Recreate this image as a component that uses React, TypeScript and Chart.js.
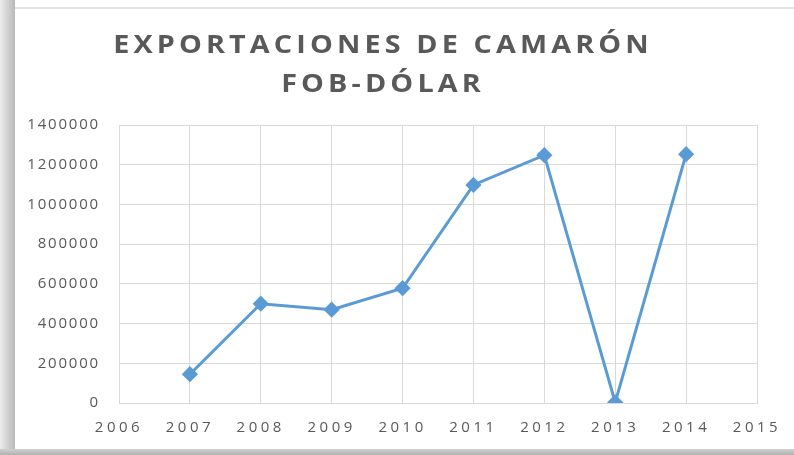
import React, { useEffect, useRef } from "react";
import { Chart, registerables } from "chart.js";

Chart.register(...registerables);

const years = [2007, 2008, 2009, 2010, 2011, 2012, 2013, 2014];
const exportValues = [145000, 500000, 470000, 578000, 1098000, 1248000, 3000, 1253000];
const titleLines = ["EXPORTACIONES DE CAMARÓN", "FOB-DÓLAR"];
const xRange = [2006, 2015];
const yRange = [0, 1400000];
const yStep = 200000;

const framePlugin = {
  id: "frame",
  beforeDraw(chart: any) {
    const ctx = chart.ctx;
    const w = chart.width;
    const h = chart.height;
    ctx.save();
    ctx.fillStyle = "#ffffff";
    ctx.fillRect(0, 0, w, h);
    const g = ctx.createLinearGradient(0, 0, 15, 0);
    g.addColorStop(0, "#ececec");
    g.addColorStop(0.5, "#d2d2d2");
    g.addColorStop(1, "#b9b9b9");
    ctx.fillStyle = g;
    ctx.fillRect(0, 0, 15, h);
    const gb = ctx.createLinearGradient(0, 449, 0, h);
    gb.addColorStop(0, "#d0d0d0");
    gb.addColorStop(1, "#b0b0b0");
    ctx.fillStyle = gb;
    ctx.fillRect(0, 449, w, h - 449);
    ctx.fillStyle = "#e3e3e3";
    ctx.fillRect(15, 7, w - 15, 2);
    ctx.restore();
    // letter-spaced tick labels
    const sx = chart.scales.x;
    const sy = chart.scales.y;
    if (sx && !sx._spaced) {
      const orig = sx.drawLabels.bind(sx);
      sx.drawLabels = (area: any) => {
        chart.ctx.save();
        chart.ctx.letterSpacing = "3.5px";
        orig(area);
        chart.ctx.restore();
      };
      sx._spaced = true;
    }
    if (sy && !sy._spaced) {
      const origY = sy.drawLabels.bind(sy);
      sy.drawLabels = (area: any) => {
        chart.ctx.save();
        chart.ctx.letterSpacing = "1.8px";
        origY(area);
        chart.ctx.restore();
      };
      sy._spaced = true;
    }
  },
};

const titlePlugin = {
  id: "spacedTitle",
  afterDraw(chart: any) {
    const ctx = chart.ctx;
    ctx.save();
    ctx.font = 'bold 25px "Open Sans"';
    ctx.letterSpacing = "3.6px";
    ctx.fillStyle = "#595959";
    ctx.textAlign = "center";
    ctx.textBaseline = "alphabetic";
    ctx.translate(383, 0);
    ctx.scale(1.15, 1);
    ctx.fillText(titleLines[0], 0, 53);
    ctx.fillText(titleLines[1], 0, 92);
    ctx.restore();
  },
};

export default function App() {
  const ref = useRef<HTMLCanvasElement | null>(null);
  useEffect(() => {
    if (!ref.current) return;
    const chart = new Chart(ref.current, {
      type: "line",
      data: {
        datasets: [
          {
            label: "Exportaciones",
            data: years.map((y, i) => ({ x: y, y: exportValues[i] })),
            borderColor: "#5b9bd5",
            backgroundColor: "#5b9bd5",
            borderWidth: 3,
            pointStyle: "rectRot",
            pointRadius: 6,
            pointHoverRadius: 6,
            tension: 0,
          },
        ],
      },
      options: {
        animation: false,
        responsive: false,
        maintainAspectRatio: false,
        layout: { padding: { top: 125, left: 20, right: 37, bottom: 0 } },
        plugins: {
          legend: { display: false },
          title: { display: false },
          tooltip: { enabled: false },
        },
        scales: {
          x: {
            type: "linear",
            min: xRange[0],
            max: xRange[1],
            ticks: {
              stepSize: 1,
              padding: 16,
              color: "#595959",
              font: { family: "Open Sans", size: 15 },
              callback: (v: any) => String(v),
            },
            grid: { color: "#d9d9d9", lineWidth: 1, drawTicks: false },
            border: { color: "#d9d9d9" },
            afterFit: (s: any) => {
              s.height = 52;
            },
          },
          y: {
            min: yRange[0],
            max: yRange[1],
            ticks: {
              stepSize: yStep,
              padding: 19,
              color: "#595959",
              font: { family: "Open Sans", size: 15 },
              callback: (v: any) => String(v),
            },
            grid: { color: "#d9d9d9", lineWidth: 1, drawTicks: false },
            border: { color: "#d9d9d9" },
            afterFit: (s: any) => {
              s.width = 99;
            },
          },
        },
      },
      plugins: [framePlugin, titlePlugin],
    });
    return () => chart.destroy();
  }, []);
  return (
    <div style={{ position: "absolute", left: 0, top: 0, width: 794, height: 455 }}>
      <canvas ref={ref} width={794} height={455} style={{ display: "block" }} />
    </div>
  );
}
